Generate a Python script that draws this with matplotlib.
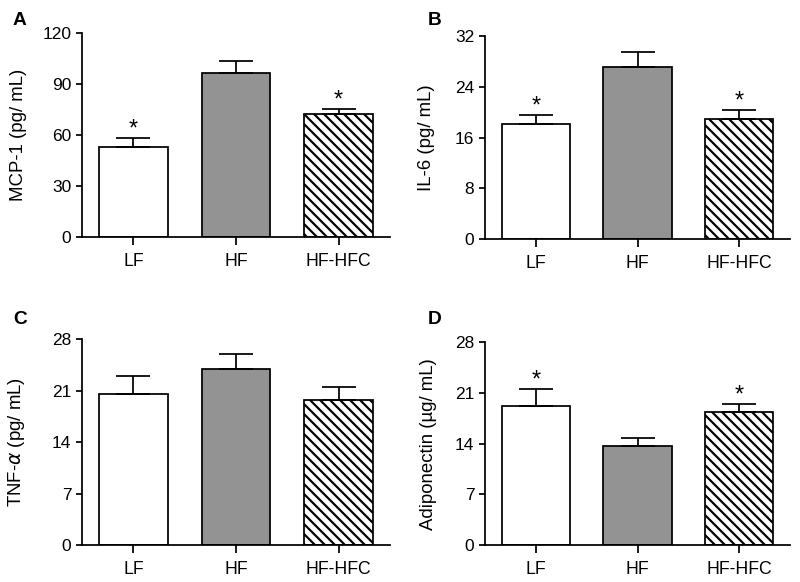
import numpy as np
import matplotlib.pyplot as plt

plt.rcParams['font.family'] = ['Liberation Sans', 'DejaVu Sans']
plt.rcParams['hatch.linewidth'] = 1.3
plt.rcParams['axes.linewidth'] = 1.05

# groups
groups = ['LF', 'HF', 'HF-HFC']

# Panel A: MCP-1
mcp1_mean = [53.1, 96.3, 72.2]
mcp1_sem = [5.3, 7.4, 3.1]
mcp1_sig = [True, False, True]

# Panel B: IL-6
il6_mean = [18.1, 27.1, 18.9]
il6_sem = [1.4, 2.3, 1.5]
il6_sig = [True, False, True]

# Panel C: TNF-alpha
tnf_mean = [20.5, 24.0, 19.7]
tnf_sem = [2.5, 2.0, 1.8]
tnf_sig = [False, False, False]

# Panel D: Adiponectin
adipo_mean = [19.2, 13.7, 18.4]
adipo_sem = [2.3, 1.1, 1.1]
adipo_sig = [True, False, True]

panels = [
    ('A', mcp1_mean, mcp1_sem, mcp1_sig, 'MCP-1 (pg/ mL)', [0, 30, 60, 90, 120]),
    ('B', il6_mean, il6_sem, il6_sig, 'IL-6 (pg/ mL)', [0, 8, 16, 24, 32]),
    ('C', tnf_mean, tnf_sem, tnf_sig, r'TNF-$\alpha$ (pg/ mL)', [0, 7, 14, 21, 28]),
    ('D', adipo_mean, adipo_sem, adipo_sig, 'Adiponectin (\u00b5g/ mL)', [0, 7, 14, 21, 28]),
]

# axes boxes in figure coords (left, bottom, width, height)
rects = [
    [0.1025, 0.5928, 0.385, 0.3505],
    [0.6063, 0.5888, 0.3813, 0.3498],
    [0.1025, 0.0636, 0.385, 0.3534],
    [0.6063, 0.0636, 0.3813, 0.3483],
]
label_x = [-0.18, -0.164, -0.18, -0.157]
letter_pos = [(13, 12), (428, 12), (13, 311), (428, 311)]

fills = ['white', '#939393', 'white']
hatches = [None, None, '\\\\\\\\']

W, H = 800, 582
fig = plt.figure(figsize=(W / 120, H / 120), dpi=120)

x = np.arange(len(groups))
for i, (letter, mean, sem, sig, ylab, yticks) in enumerate(panels):
    ax = fig.add_axes(rects[i])
    bars = ax.bar(x, mean, width=0.67, color=fills, edgecolor='black',
                  linewidth=1.05, zorder=2)
    for b, h in zip(bars, hatches):
        if h:
            b.set_hatch(h)
    ax.errorbar(x, mean, yerr=[np.zeros(len(mean)), sem], fmt='none',
                ecolor='black', elinewidth=1.05, capsize=10.4, capthick=1.05,
                zorder=3)
    for xi, m, s, star in zip(x, mean, sem, sig):
        if star:
            ax.annotate('*', xy=(xi, m + s), xytext=(0, -1.5),
                        textcoords='offset points', ha='center', va='bottom',
                        fontsize=14)

    ax.set_xlim(-0.5, 2.5)
    ax.set_ylim(yticks[0], yticks[-1])
    ax.set_yticks(yticks)
    ax.set_xticks(x)
    ax.set_xticklabels(groups)
    ax.spines['top'].set_visible(False)
    ax.spines['right'].set_visible(False)
    ax.tick_params(axis='y', length=3.4, width=1.05, pad=3.0, labelsize=10.4)
    ax.tick_params(axis='x', length=4.6, width=1.05, pad=5.0, labelsize=10.6)
    ax.set_ylabel(ylab, fontsize=11.2)
    ax.yaxis.set_label_coords(label_x[i], 0.5)

    fig.text(letter_pos[i][0] / W, 1 - letter_pos[i][1] / H, letter,
             fontsize=11.5, fontweight='bold', ha='left', va='top')

fig.savefig('out.png', dpi=120)
